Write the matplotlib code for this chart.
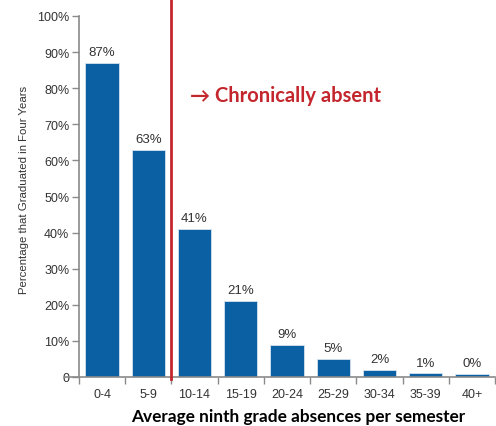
import matplotlib
matplotlib.use("Agg")
import matplotlib.pyplot as plt
import numpy as np

# absence bands and four-year graduation rates
categories = ['0-4', '5-9', '10-14', '15-19', '20-24', '25-29', '30-34', '35-39', '40+']
grad_rates = [87, 63, 41, 21, 9, 5, 2, 1, 0.8]
rate_labels = ['87%', '63%', '41%', '21%', '9%', '5%', '2%', '1%', '0%']
y_ticks = [0, 10, 20, 30, 40, 50, 60, 70, 80, 90, 100]
y_tick_labels = ['0', '10%', '20%', '30%', '40%', '50%', '60%', '70%', '80%', '90%', '100%']

BLUE = '#0b5fa3'
RED = '#c4262d'
GREY = '#8a8a8a'
TXT = '#333333'

fig = plt.figure(figsize=(4.96, 4.27), dpi=100)
ax = fig.add_axes([79 / 496, 1 - 378 / 427, 416 / 496, 361 / 427])

x = np.arange(len(categories))
ax.bar(x, grad_rates, width=0.72, color=BLUE, edgecolor='#d6e2ee', linewidth=0.6, zorder=2)
for xi, h, lab in zip(x, grad_rates, rate_labels):
    ax.text(xi, h + 1.3, lab, ha='center', va='bottom', fontsize=9.5, color=TXT,
            family='Liberation Sans')

ax.set_xlim(-0.5, len(categories) - 0.5)
ax.set_ylim(0, 100)

ax.set_yticks(y_ticks)
ax.set_yticklabels(y_tick_labels, fontsize=9, color=TXT, family='Liberation Sans')
ax.tick_params(axis='y', direction='out', length=5, width=1, color=GREY, pad=2)

ax.set_xticks(x)
ax.set_xticklabels(categories, fontsize=9, color=TXT, family='Liberation Sans')
ax.tick_params(axis='x', which='major', length=0, pad=8)
ax.set_xticks(np.arange(len(categories) + 1) - 0.5, minor=True)
ax.tick_params(axis='x', which='minor', direction='out', length=5, width=1, color=GREY)

for side in ['top', 'right']:
    ax.spines[side].set_visible(False)
ax.spines['left'].set_color(GREY)
ax.spines['left'].set_linewidth(1.2)
ax.spines['bottom'].set_color(GREY)
ax.spines['bottom'].set_linewidth(1.2)
ax.spines['bottom'].set_bounds(-0.8, len(categories) - 0.5)

ax.set_ylabel('Percentage that Graduated in Four Years', fontsize=8.2, color=TXT,
              family='Liberation Sans')
ax.yaxis.set_label_coords(-0.12, 0.52)
ax.set_xlabel('Average ninth grade absences per semester', fontsize=12.4,
              fontweight='bold', family='Lato', color='black')
ax.xaxis.set_label_coords(0.526, -0.087)

# chronic absence threshold
ax.axvline(1.5, ymin=-0.005, ymax=1.05, color=RED, linewidth=2, clip_on=False, zorder=3)
ax.text(1.9, 78.1, '\u2192 Chronically absent', color=RED, fontsize=14.5,
        fontweight='bold', family=['Lato', 'DejaVu Sans'], ha='left', va='center')

fig.savefig('out.png', dpi=100)
